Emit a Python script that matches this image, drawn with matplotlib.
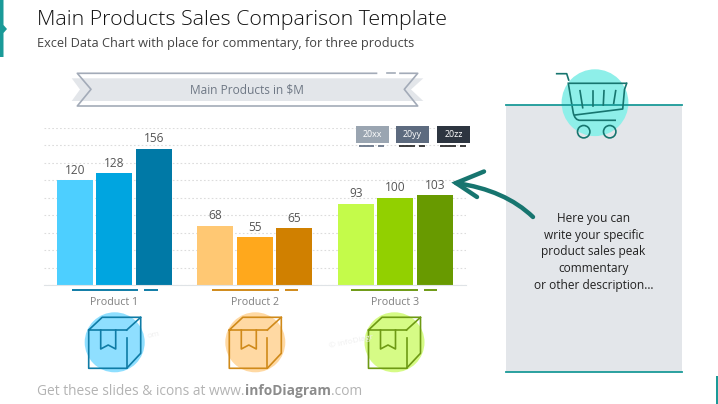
import matplotlib
matplotlib.use("Agg")
import matplotlib.pyplot as plt
from matplotlib.patches import Rectangle, Circle, Polygon, PathPatch
from matplotlib.path import Path
import numpy as np

plt.rcParams['font.family'] = ['Open Sans', 'DejaVu Sans']

# chart data
products = ["Product 1", "Product 2", "Product 3"]
years = ["20xx", "20yy", "20zz"]
values_20xx = [120, 68, 93]
values_20yy = [128, 55, 100]
values_20zz = [156, 65, 103]

# colours per product, light to dark
colors_20xx = ["#4dcfff", "#ffc873", "#c4fb4a"]
colors_20yy = ["#00a5e0", "#ffa81c", "#92d000"]
colors_20zz = ["#0079a6", "#d08000", "#689a00"]
circle_colors = ["#8fdfff", "#ffd9a3", "#d6fb86"]
icon_colors = ["#0f7ca6", "#d08a1a", "#6e9a14"]
legend_colors = ["#9aa5b1", "#5d6b7f", "#2d3540"]
legend_dash = ["#5d6b7f", "#1c1c1c", "#1c1c1c"]

TEAL = "#1a9a98"
DARK_TEAL = "#17756f"
PANEL = "#e3e6ea"

fig = plt.figure(figsize=(7.18, 4.04), dpi=100)

# background axes in pixels for the slide decoration
bg = fig.add_axes([0, 0, 1, 1])
bg.set_xlim(0, 718)
bg.set_ylim(404, 0)
bg.axis("off")

# left and right accents
bg.add_patch(Polygon([(0, 0), (3.5, 0), (3.5, 25), (7, 29), (3.5, 33), (3.5, 57), (0, 57)],
                     color=TEAL, lw=0))
bg.add_patch(Rectangle((715.7, 375.7), 2.3, 28.3, color=TEAL, lw=0))

# title
bg.text(37, 20.5, "Main Products Sales Comparison Template", fontsize=15.4, color="#111111",
        va="center", ha="left", fontweight="light")
bg.text(37, 43.5, "Excel Data Chart with place for commentary, for three products", fontsize=9.2,
        color="#444444", va="center", ha="left")

# banner
bg.add_patch(Polygon([(71.7, 78.3), (423.3, 78.3), (411, 89.5), (423.3, 101), (71.7, 101), (80, 89.5)],
                     color=PANEL, lw=0))
bg.plot([376.5, 77.3, 91, 77.3, 417.7, 404.3, 417.7, 400],
        [73.3, 73.3, 89.3, 106, 106, 89.3, 73.3, 73.3], color="#a3abb8", lw=1.2)
bg.plot([387, 395], [73.3, 73.3], color="#a3abb8", lw=1.2)
bg.text(247, 89.5, "Main Products in $M", fontsize=8.6, color="#6f7885", ha="center", va="center")

# comment panel
bg.add_patch(Rectangle((505.7, 104.7), 176, 267, color=PANEL, lw=0))
bg.plot([505.7, 681.7], [104.7, 104.7], color=TEAL, lw=1.3)
bg.plot([505.7, 681.7], [371.7, 371.7], color=TEAL, lw=1.3)
bg.text(593.5, 252, "Here you can\nwrite your specific\nproduct sales peak\ncommentary\nor other description…",
        fontsize=8.6, color="#222222", ha="center", va="center", linespacing=1.36)

# cart icon
bg.add_patch(Circle((595, 102.7), 33.4, color="#8eefe9", lw=0))
cart = DARK_TEAL
bg.plot([556.7, 566.7, 568.7], [73.7, 73.7, 80], color=cart, lw=1.2)
cart_path = Path([(626.7, 83.3), (568.3, 83.3), (573.3, 113), (575, 120.3), (580, 120.3), (616, 120.3)],
                 [Path.MOVETO, Path.LINETO, Path.LINETO, Path.CURVE3, Path.CURVE3, Path.LINETO])
bg.add_patch(PathPatch(cart_path, fill=False, ec=cart, lw=1.2))
bg.plot([626.7, 624.5, 622.7, 575], [83.3, 89.5, 109, 115], color=cart, lw=1.2)
for x1, x2, y2 in [(580, 582.7, 107.7), (592.7, 592.7, 106), (604, 603.3, 105), (615.7, 613.7, 103.3)]:
    bg.plot([x1, x2], [90.7, y2], color=cart, lw=1.2)
bg.add_patch(Circle((583.7, 131.7), 6.2, fill=False, ec=cart, lw=1.2))
bg.add_patch(Circle((609.7, 131.7), 6.2, fill=False, ec=cart, lw=1.2))

# product icons under the chart
for cx, circ, col in zip([114.7, 255.3, 394.5], circle_colors, icon_colors):
    bg.add_patch(Circle((cx, 342.3), 30, color=circ, lw=0))
    fx = cx - 26
    bg.plot([fx + 38, fx, fx, fx + 38, fx + 52, fx + 52, fx + 13.5, fx],
            [330, 330, 368.3, 368.3, 353.3, 317.3, 317.3, 330], color=col, lw=1.2)
    bg.plot([fx + 38, fx + 52], [330, 317.3], color=col, lw=1.2)
    bg.plot([fx + 38, fx + 38], [338, 368.3], color=col, lw=1.2)
    bg.plot([fx + 12, fx + 12, fx + 19.5, fx + 27, fx + 27],
            [330, 349, 345, 349, 330], color=col, lw=1.2)

# faint watermarks
bg.text(328, 342, "© infoDiagr", fontsize=6, color="#efefef", rotation=12, va="center")
bg.text(146, 335, "om", fontsize=6, color="#efefef", rotation=12, va="center")

# footer
fx = 37.3
for txt, wt, col in [("Get these slides & icons at www.", "normal", "#b3b3b3"),
                     ("infoDiagram", "bold", "#8c8c8c"),
                     (".com", "normal", "#b3b3b3")]:
    t = bg.text(fx, 391.5, txt, fontsize=9.95, color=col, fontweight=wt, va="center", ha="left")
    fx = bg.transData.inverted().transform(t.get_window_extent(fig.canvas.get_renderer()))[1][0]

# bar chart
ax = fig.add_axes([44 / 718, (404 - 285) / 404, (465.7 - 44) / 718, 157.5 / 404])
ax.patch.set_alpha(0)
x = np.arange(len(products))
step = 0.281
w = 0.256
b1 = ax.bar(x - step, values_20xx, w, color=colors_20xx)
b2 = ax.bar(x, values_20yy, w, color=colors_20yy)
b3 = ax.bar(x + step, values_20zz, w, color=colors_20zz)
for b in [b1, b2, b3]:
    ax.bar_label(b, padding=2.3, fontsize=8.6, color="#555555")

ax.set_xlim(-0.5, 2.5)
ax.set_ylim(0, 180)
ax.set_yticks(range(0, 200, 20))
ax.set_xticks(x)
ax.set_xticklabels(products, fontsize=7.7, color="#7f7f7f")
ax.tick_params(axis="both", length=0, labelleft=False, pad=8.3)
ax.grid(axis="y", color="#dcdcdc", lw=0.8, ls=(0, (1.5, 2)))
ax.set_axisbelow(True)
for s in ["top", "left", "right"]:
    ax.spines[s].set_visible(False)
ax.spines["bottom"].set_color("#dfe3e6")

# coloured dashes under the categories
for gx, col in zip([71.7, 212.3, 351.3], icon_colors):
    bg.plot([gx, gx + 66.7], [289.7, 289.7], color=col, lw=1.4, solid_capstyle="butt")
    bg.plot([gx + 72.5, gx + 86], [289.7, 289.7], color=col, lw=1.4, solid_capstyle="butt")

# year boxes, drawn above the gridlines
top = fig.add_axes([0, 0, 1, 1])
top.set_xlim(0, 718)
top.set_ylim(404, 0)
top.axis("off")
for bx, yr, col, dash in zip([355.7, 396, 437], years, legend_colors, legend_dash):
    top.add_patch(Rectangle((bx, 125.7), 33, 17.6, color=col, lw=0))
    top.text(bx + 16.5, 134.7, yr, fontsize=6.4, color="white", ha="center", va="center")
    top.plot([bx + 3.3, bx + 18.5], [145.7, 145.7], color=dash, lw=1.2, solid_capstyle="butt")
    top.plot([bx + 22.7, bx + 28.5], [145.7, 145.7], color=dash, lw=1.2, solid_capstyle="butt")

# arrow pointing at the 103 bar
shaft = Path([(533, 217), (505, 190), (456, 183)], [Path.MOVETO, Path.CURVE3, Path.CURVE3])
top.add_patch(PathPatch(shaft, fill=False, ec=DARK_TEAL, lw=3.2, capstyle="round"))
top.plot([484, 456, 477], [171.5, 183, 197], color=DARK_TEAL, lw=3.2,
         solid_capstyle="round", solid_joinstyle="miter")

fig.savefig("out.png", dpi=100)
